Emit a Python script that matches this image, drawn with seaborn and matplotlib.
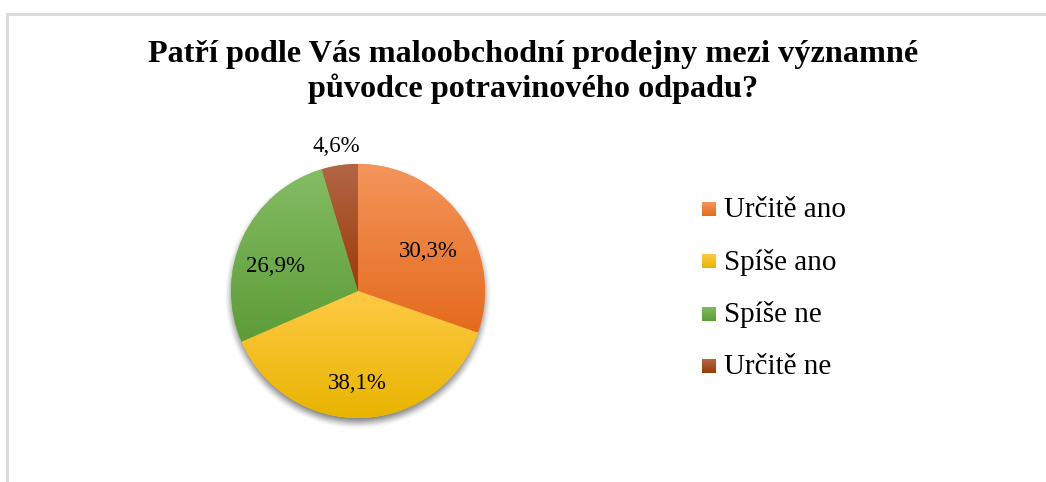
import numpy as np
import matplotlib
matplotlib.use("Agg")
import matplotlib.pyplot as plt
from matplotlib.colors import LinearSegmentedColormap
from matplotlib.patches import Rectangle
import seaborn as sns

sns.set_theme(style="white")
plt.rcParams["font.family"] = ["Liberation Serif", "DejaVu Serif"]
plt.rcParams["text.color"] = "black"

# Survey answers and their shares (%)
categories = ["Určitě ano", "Spíše ano", "Spíše ne", "Určitě ne"]
shares = [30.3, 38.1, 26.9, 4.6]
value_labels = ["30,3%", "38,1%", "26,9%", "4,6%"]
title = "Patří podle Vás maloobchodní prodejny mezi významné\npůvodce potravinového odpadu?"

# Gradient fill per slice: (lighter top, darker bottom)
gradients = [("#F4955C", "#E46A1C"),
             ("#FFCA45", "#E8B400"),
             ("#84BC64", "#5C9C36"),
             ("#B36645", "#9B3A08")]
# Label placement: radius (fraction of pie radius) and angular nudge (deg)
label_radius = [0.635, 0.73, 0.68, 1.15]
label_nudge = [-5.8, -2.3, 8.5, 0.4]

W, H = 1046, 482
fig = plt.figure(figsize=(W / 100, H / 100), dpi=100)
fig.patch.set_facecolor("white")

# Chart frame (light grey border running off the right/bottom edge)
frame = Rectangle((6.5 / W, -0.1), 1.2, (H - 13.5) / H + 0.1,
                  transform=fig.transFigure, fill=False,
                  edgecolor="#D9D9D9", linewidth=2.0, zorder=0)
fig.patches.append(frame)

# Pie axes placed so that the pie is centred at (358, 291) px with radius 127 px
cx, cy, R = 358, 291, 127
half = 150
ax = fig.add_axes([(cx - half) / W, (H - cy - half) / H, 2 * half / W, 2 * half / H])
lim = half / R
ax.set_xlim(-lim, lim)
ax.set_ylim(-lim, lim)
ax.set_aspect("equal")
ax.axis("off")

# Soft drop shadow beneath the pie
n = 400
xs = np.linspace(-lim, lim, n)
X, Y = np.meshgrid(xs, xs)
d = np.hypot(X, Y + 0.035)
blur = 0.06
a = np.clip((1.0 + blur - d) / (2 * blur), 0, 1)
a = a * a * (3 - 2 * a)
shadow = np.zeros((n, n, 4))
shadow[..., 3] = 0.55 * a
ax.imshow(shadow, extent=[-lim, lim, -lim, lim], origin="lower", zorder=1,
          interpolation="bilinear")

wedges, _ = ax.pie(shares, startangle=90, counterclock=False, radius=1.0,
                   colors=[g[0] for g in gradients],
                   wedgeprops=dict(linewidth=0, edgecolor="none"))

grad = np.linspace(0, 1, 256).reshape(-1, 1)
for w, (top, bot) in zip(wedges, gradients):
    w.set_zorder(2)
    bb = w.get_path().get_extents()
    y0, y1 = bb.y0, bb.y1
    cmap = LinearSegmentedColormap.from_list("g", [bot, top])
    im = ax.imshow(grad, cmap=cmap, extent=[-1.01, 1.01, y0, y1], origin="lower",
                   aspect="auto", zorder=3, interpolation="bilinear")
    im.set_clip_path(w)

ax.set_xlim(-lim, lim)
ax.set_ylim(-lim, lim)

for w, lab, r, nudge in zip(wedges, value_labels, label_radius, label_nudge):
    mid = np.deg2rad((w.theta1 + w.theta2) / 2 + nudge)
    ax.text(r * np.cos(mid), r * np.sin(mid), lab, ha="center", va="center",
            fontsize=16.5, color="black", zorder=5)

# Title
fig.text(533 / W, 1 - 72 / H, title, ha="center", va="center",
         fontsize=23.2, fontweight="bold", linespacing=1.16, color="black")

# Legend with square gradient markers
leg_x, leg_y0, leg_dy = 709, 209, 52.3
for i, (cat, (top, bot)) in enumerate(zip(categories, gradients)):
    yc = leg_y0 + i * leg_dy
    lax = fig.add_axes([(leg_x - 7) / W, (H - yc - 7) / H, 14 / W, 14 / H])
    cmap = LinearSegmentedColormap.from_list("g", [bot, top])
    lax.imshow(grad, cmap=cmap, aspect="auto", origin="lower")
    lax.axis("off")
    fig.text((leg_x + 15) / W, 1 - (yc + 1) / H, cat, ha="left", va="center",
             fontsize=21, color="black")

fig.savefig("out.png", dpi=100, facecolor="white")
